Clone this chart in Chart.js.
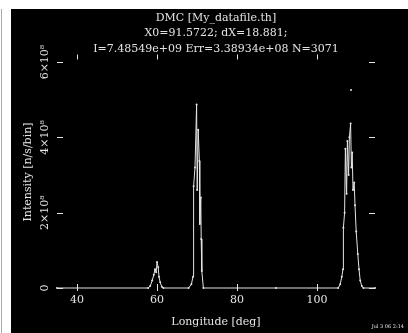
<!DOCTYPE html>
<html>
<head>
<meta charset="utf-8">
<script src="https://cdn.jsdelivr.net/npm/chart.js@4.4.0/dist/chart.umd.min.js"></script>
<style>
  html, body { margin: 0; padding: 0; background: #fff; }
  #wrap { position: relative; width: 408px; height: 333px; }
</style>
</head>
<body>
<div id="wrap"><canvas id="dmc" width="408" height="333"></canvas></div>
<script>
// DMC banana detector scan; intensity in units of 1e8 n/s/bin
const longitude = [35, 57.8, 58.3, 58.8, 59.2, 59.5, 59.8, 60.0, 60.3, 60.5, 60.8, 61.2, 61.6,
  67.9, 68.6, 69.0, 69.15, 69.5, 69.9, 70.05, 70.3, 70.6, 70.7, 70.95, 71.05, 71.2, 71.6,
  89.75,
  105.3, 105.8, 106.2, 106.5, 106.6, 106.9, 107.1, 107.4, 107.6, 107.9, 108.1, 108.4, 108.6,
  108.8, 109.0, 109.3, 109.5, 109.8, 110.2, 110.5, 110.8, 111.2, 111.6, 114.5];
const intensity = [0, 0, 0.05, 0.2, 0.35, 0.5, 0.42, 0.69, 0.55, 0.3, 0.15, 0.03, 0,
  0, 0.1, 0.3, 2.7, 3.2, 4.87, 2.6, 4.2, 3.37, 1.7, 2.4, 1.3, 0.45, 0,
  0,
  0, 0.1, 0.3, 0.5, 1.6, 2.0, 3.7, 2.5, 3.9, 3.0, 4.0, 4.37, 3.2,
  3.6, 2.6, 2.8, 2.2, 1.5, 0.9, 0.5, 0.2, 0.05, 0, 0];

// stray error bar end above the last reflection
const errTopX = [108.5];
const errTopY = [5.26];

const xTicks = [40, 60, 80, 100];
const yTicks = [0, 2, 4, 6];
const yTickLabels = ['0', '2×10⁸', '4×10⁸', '6×10⁸'];

const titleLines = [
  'DMC [My_datafile.th]',
  'X0=91.5722; dX=18.881;',
  'I=7.48549e+09 Err=3.38934e+08 N=3071'
];
const xTitle = 'Longitude [deg]';
const yTitle = 'Intensity [n/s/bin]';
const stamp = 'Jul 3 06 2:14';

const FG = '#e4e4e4';
const FONT = '"DejaVu Serif", "Liberation Serif", serif';

const pgplotFrame = {
  id: 'pgplotFrame',
  beforeDraw: function (chart) {
    const c = chart.ctx;
    c.save();
    c.fillStyle = '#fff';
    c.fillRect(0, 0, chart.width, chart.height);
    c.fillStyle = '#000';
    c.fillRect(11, 9, chart.width - 11, chart.height - 9);
    c.fillStyle = '#aaa';
    c.fillRect(1, 9, 1, chart.height - 9);
    c.restore();
  },
  afterDraw: function (chart) {
    const c = chart.ctx;
    const a = chart.chartArea;
    const xs = chart.scales.x;
    const ys = chart.scales.y;
    c.save();
    c.strokeStyle = FG;
    c.fillStyle = FG;
    c.lineWidth = 1;

    // small ticks, no frame
    c.beginPath();
    xTicks.forEach(function (v) {
      const px = Math.round(xs.getPixelForValue(v)) + 0.5;
      c.moveTo(px, a.bottom - 4); c.lineTo(px, a.bottom + 3);
      c.moveTo(px, a.top); c.lineTo(px, a.top + 5);
    });
    yTicks.forEach(function (v) {
      const py = Math.round(ys.getPixelForValue(v)) + 0.5;
      c.moveTo(a.left, py); c.lineTo(a.left + 6, py);
      c.moveTo(a.right - 6, py); c.lineTo(a.right, py);
    });
    c.stroke();

    // x tick labels
    c.font = '11px ' + FONT;
    c.textAlign = 'center';
    c.textBaseline = 'middle';
    xTicks.forEach(function (v) {
      c.fillText(String(v), xs.getPixelForValue(v), 300);
    });

    // y tick labels, rotated
    yTicks.forEach(function (v, i) {
      c.save();
      c.translate(45, ys.getPixelForValue(v));
      c.rotate(-Math.PI / 2);
      c.fillText(yTickLabels[i], 0, 0);
      c.restore();
    });

    // axis titles
    c.fillText(xTitle, (a.left + a.right) / 2, 322);
    c.save();
    c.translate(28, 172);
    c.rotate(-Math.PI / 2);
    c.fillText(yTitle, 0, 0);
    c.restore();

    // title block
    titleLines.forEach(function (t, i) {
      c.fillText(t, (a.left + a.right) / 2, 18 + i * 15.5);
    });

    c.font = '5px ' + FONT;
    c.textAlign = 'right';
    c.fillText(stamp, 404, 327);
    c.restore();
  }
};

new Chart(document.getElementById('dmc'), {
  type: 'line',
  data: {
    datasets: [{
      data: longitude.map(function (x, i) { return { x: x, y: intensity[i] }; }),
      borderColor: FG,
      borderWidth: 1,
      pointRadius: 1,
      pointBackgroundColor: FG,
      pointBorderWidth: 0,
      tension: 0,
      clip: false
    }, {
      type: 'scatter',
      data: errTopX.map(function (x, i) { return { x: x, y: errTopY[i] }; }),
      pointRadius: 1,
      pointBackgroundColor: FG,
      pointBorderWidth: 0
    }]
  },
  options: {
    responsive: false,
    animation: false,
    layout: { padding: { left: 57, right: 33, top: 54.5, bottom: 45 } },
    scales: {
      x: { type: 'linear', min: 35, max: 114.5, display: false },
      y: { min: 0, max: 6.2, display: false }
    },
    plugins: {
      legend: { display: false },
      tooltip: { enabled: false },
      title: { display: false }
    }
  },
  plugins: [pgplotFrame]
});
</script>
</body>
</html>
